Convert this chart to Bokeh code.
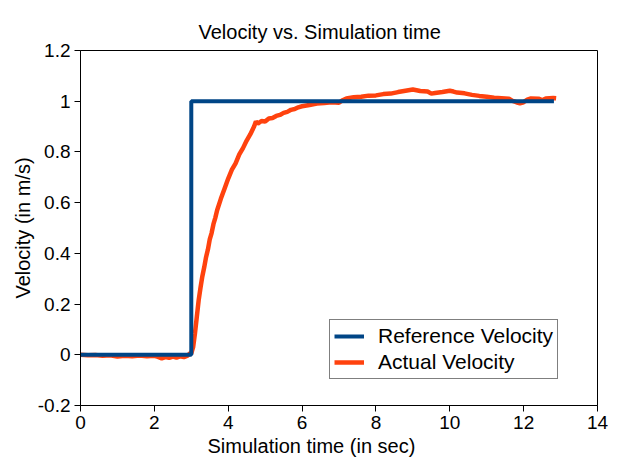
from bokeh.plotting import figure
from bokeh.models import (Range1d, FixedTicker, Title, Legend, LegendItem)
from bokeh.embed import file_html
from bokeh.resources import INLINE

# ---------------- data ----------------
title_text = "Velocity vs. Simulation time"
x_label = "Simulation time (in sec)"
y_label = "Velocity (in m/s)"

x_ticks = [0, 2, 4, 6, 8, 10, 12, 14]
y_ticks = [-0.2, 0.0, 0.2, 0.4, 0.6, 0.8, 1.0, 1.2]
y_tick_labels = ["-0.2", "0", "0.2", "0.4", "0.6", "0.8", "1", "1.2"]

ref_t = [0.0, 3.0, 3.0, 12.82]
ref_v = [0.0, 0.0, 1.0, 1.0]

act_t = [0.0, 0.2, 0.4, 0.6, 0.8, 1.0, 1.2, 1.4, 1.6, 1.8, 2.0,
         2.1, 2.2, 2.3, 2.4, 2.5, 2.6, 2.7, 2.8, 2.9,
         2.95, 3.0,
         3.05, 3.1, 3.15, 3.2, 3.25, 3.3, 3.35, 3.4, 3.45, 3.5, 3.55, 3.6, 3.65, 3.7,
         3.8, 3.9, 4.0, 4.1, 4.2, 4.3, 4.4, 4.5, 4.6, 4.7,
         4.75,
         4.8, 4.9, 5.0, 5.1, 5.2, 5.3, 5.4, 5.5, 5.6, 5.7, 5.8, 5.9, 6.0,
         6.2, 6.4, 6.6, 6.8, 7.0,
         7.1,
         7.2, 7.4, 7.6, 7.8, 8.0, 8.2, 8.4, 8.6, 8.8, 9.0,
         9.1, 9.2,
         9.4, 9.5, 9.6, 9.8,
         10.0, 10.1, 10.2,
         10.4, 10.6, 10.8, 11.0, 11.2, 11.4, 11.6,
         11.7, 11.8, 11.9, 12.0, 12.1, 12.2,
         12.4, 12.5, 12.6, 12.8, 12.88]
act_v = [0.000, -0.002, -0.001, -0.004, -0.002, -0.007, -0.004, -0.006, -0.003, -0.006, -0.004,
         -0.008, -0.014, -0.009, -0.012, -0.007, -0.011, -0.006, -0.009, -0.003,
         0.004, 0.006,
         0.030, 0.085, 0.150, 0.215, 0.265, 0.310, 0.345, 0.385, 0.415, 0.455, 0.480, 0.515, 0.540, 0.570,
         0.615, 0.655, 0.695, 0.730, 0.755, 0.790, 0.815, 0.845, 0.870, 0.900,
         0.920,
         0.912, 0.922, 0.920, 0.932, 0.934, 0.942, 0.946, 0.954, 0.958, 0.966, 0.969, 0.976, 0.980,
         0.985, 0.991, 0.993, 0.996, 0.994,
         1.004,
         1.011, 1.016, 1.018, 1.022, 1.023, 1.028, 1.030, 1.036, 1.041, 1.046,
         1.043, 1.040,
         1.038, 1.030, 1.032, 1.036,
         1.041, 1.038, 1.034,
         1.031, 1.025, 1.021, 1.018, 1.014, 1.012, 1.010,
         1.001, 0.996, 0.992, 0.996, 1.006, 1.011,
         1.010, 1.004, 1.011, 1.013, 1.012]
assert len(act_t) == len(act_v)

series_names = ["Reference Velocity", "Actual Velocity"]
ref_color = "#004586"
act_color = "#ff420e"

FONT = "Liberation Sans"

# ---------------- figure ----------------
p = figure(frame_width=517, frame_height=355,
           x_range=Range1d(0, 14), y_range=Range1d(-0.2, 1.2),
           output_backend="svg", toolbar_location=None,
           min_border_left=80, min_border_right=33,
           min_border_top=50, min_border_bottom=58)
p.background_fill_color = "white"
p.border_fill_color = "white"
p.outline_line_color = "black"
p.outline_line_width = 1
p.xgrid.visible = False
p.ygrid.visible = False

# title (shifted so it's centred on the page like the reference)
p.title = Title(text=title_text, align="left", offset=118,
                text_font=FONT, text_font_size="20px",
                text_font_style="normal", text_color="black",
                standoff=16)

# x-axis label as a title below the axis
p.add_layout(Title(text=x_label, align="left", offset=127,
                   text_font=FONT, text_font_size="20px",
                   text_font_style="normal", text_color="black",
                   standoff=2), "below")

for ax in (p.xaxis[0], p.yaxis[0]):
    ax.axis_line_color = "black"
    ax.major_tick_line_color = "black"
    ax.major_tick_out = 6
    ax.major_tick_in = 0
    ax.minor_tick_line_color = None
    ax.major_label_text_font = FONT
    ax.major_label_text_font_size = "19px"
    ax.major_label_text_color = "black"
    ax.major_label_standoff = 4

p.xaxis.ticker = FixedTicker(ticks=x_ticks)
p.yaxis.ticker = FixedTicker(ticks=y_ticks)
p.yaxis.major_label_overrides = {t: l for t, l in zip(y_ticks, y_tick_labels)}

p.yaxis.axis_label = y_label
p.yaxis.axis_label_text_font = FONT
p.yaxis.axis_label_text_font_size = "20px"
p.yaxis.axis_label_text_font_style = "normal"
p.yaxis.axis_label_text_color = "black"
p.yaxis.axis_label_standoff = 1

# ---------------- series ----------------
r_act = p.line(act_t, act_v, line_color=act_color, line_width=4.5)
r_ref = p.line(ref_t, ref_v, line_color=ref_color, line_width=4)

legend = Legend(items=[LegendItem(label=series_names[0], renderers=[r_ref]),
                       LegendItem(label=series_names[1], renderers=[r_act])],
                location=(249, 26))
legend.border_line_color = "black"
legend.border_line_width = 1
legend.background_fill_color = "white"
legend.background_fill_alpha = 1
legend.label_text_font = FONT
legend.label_text_font_size = "21px"
legend.label_text_color = "black"
legend.glyph_width = 30
legend.glyph_height = 22
legend.label_height = 22
legend.label_standoff = 14
legend.padding = 4
legend.spacing = 2
legend.margin = 0
p.add_layout(legend, "center")

open("out.html", "w").write(file_html(p, INLINE))
